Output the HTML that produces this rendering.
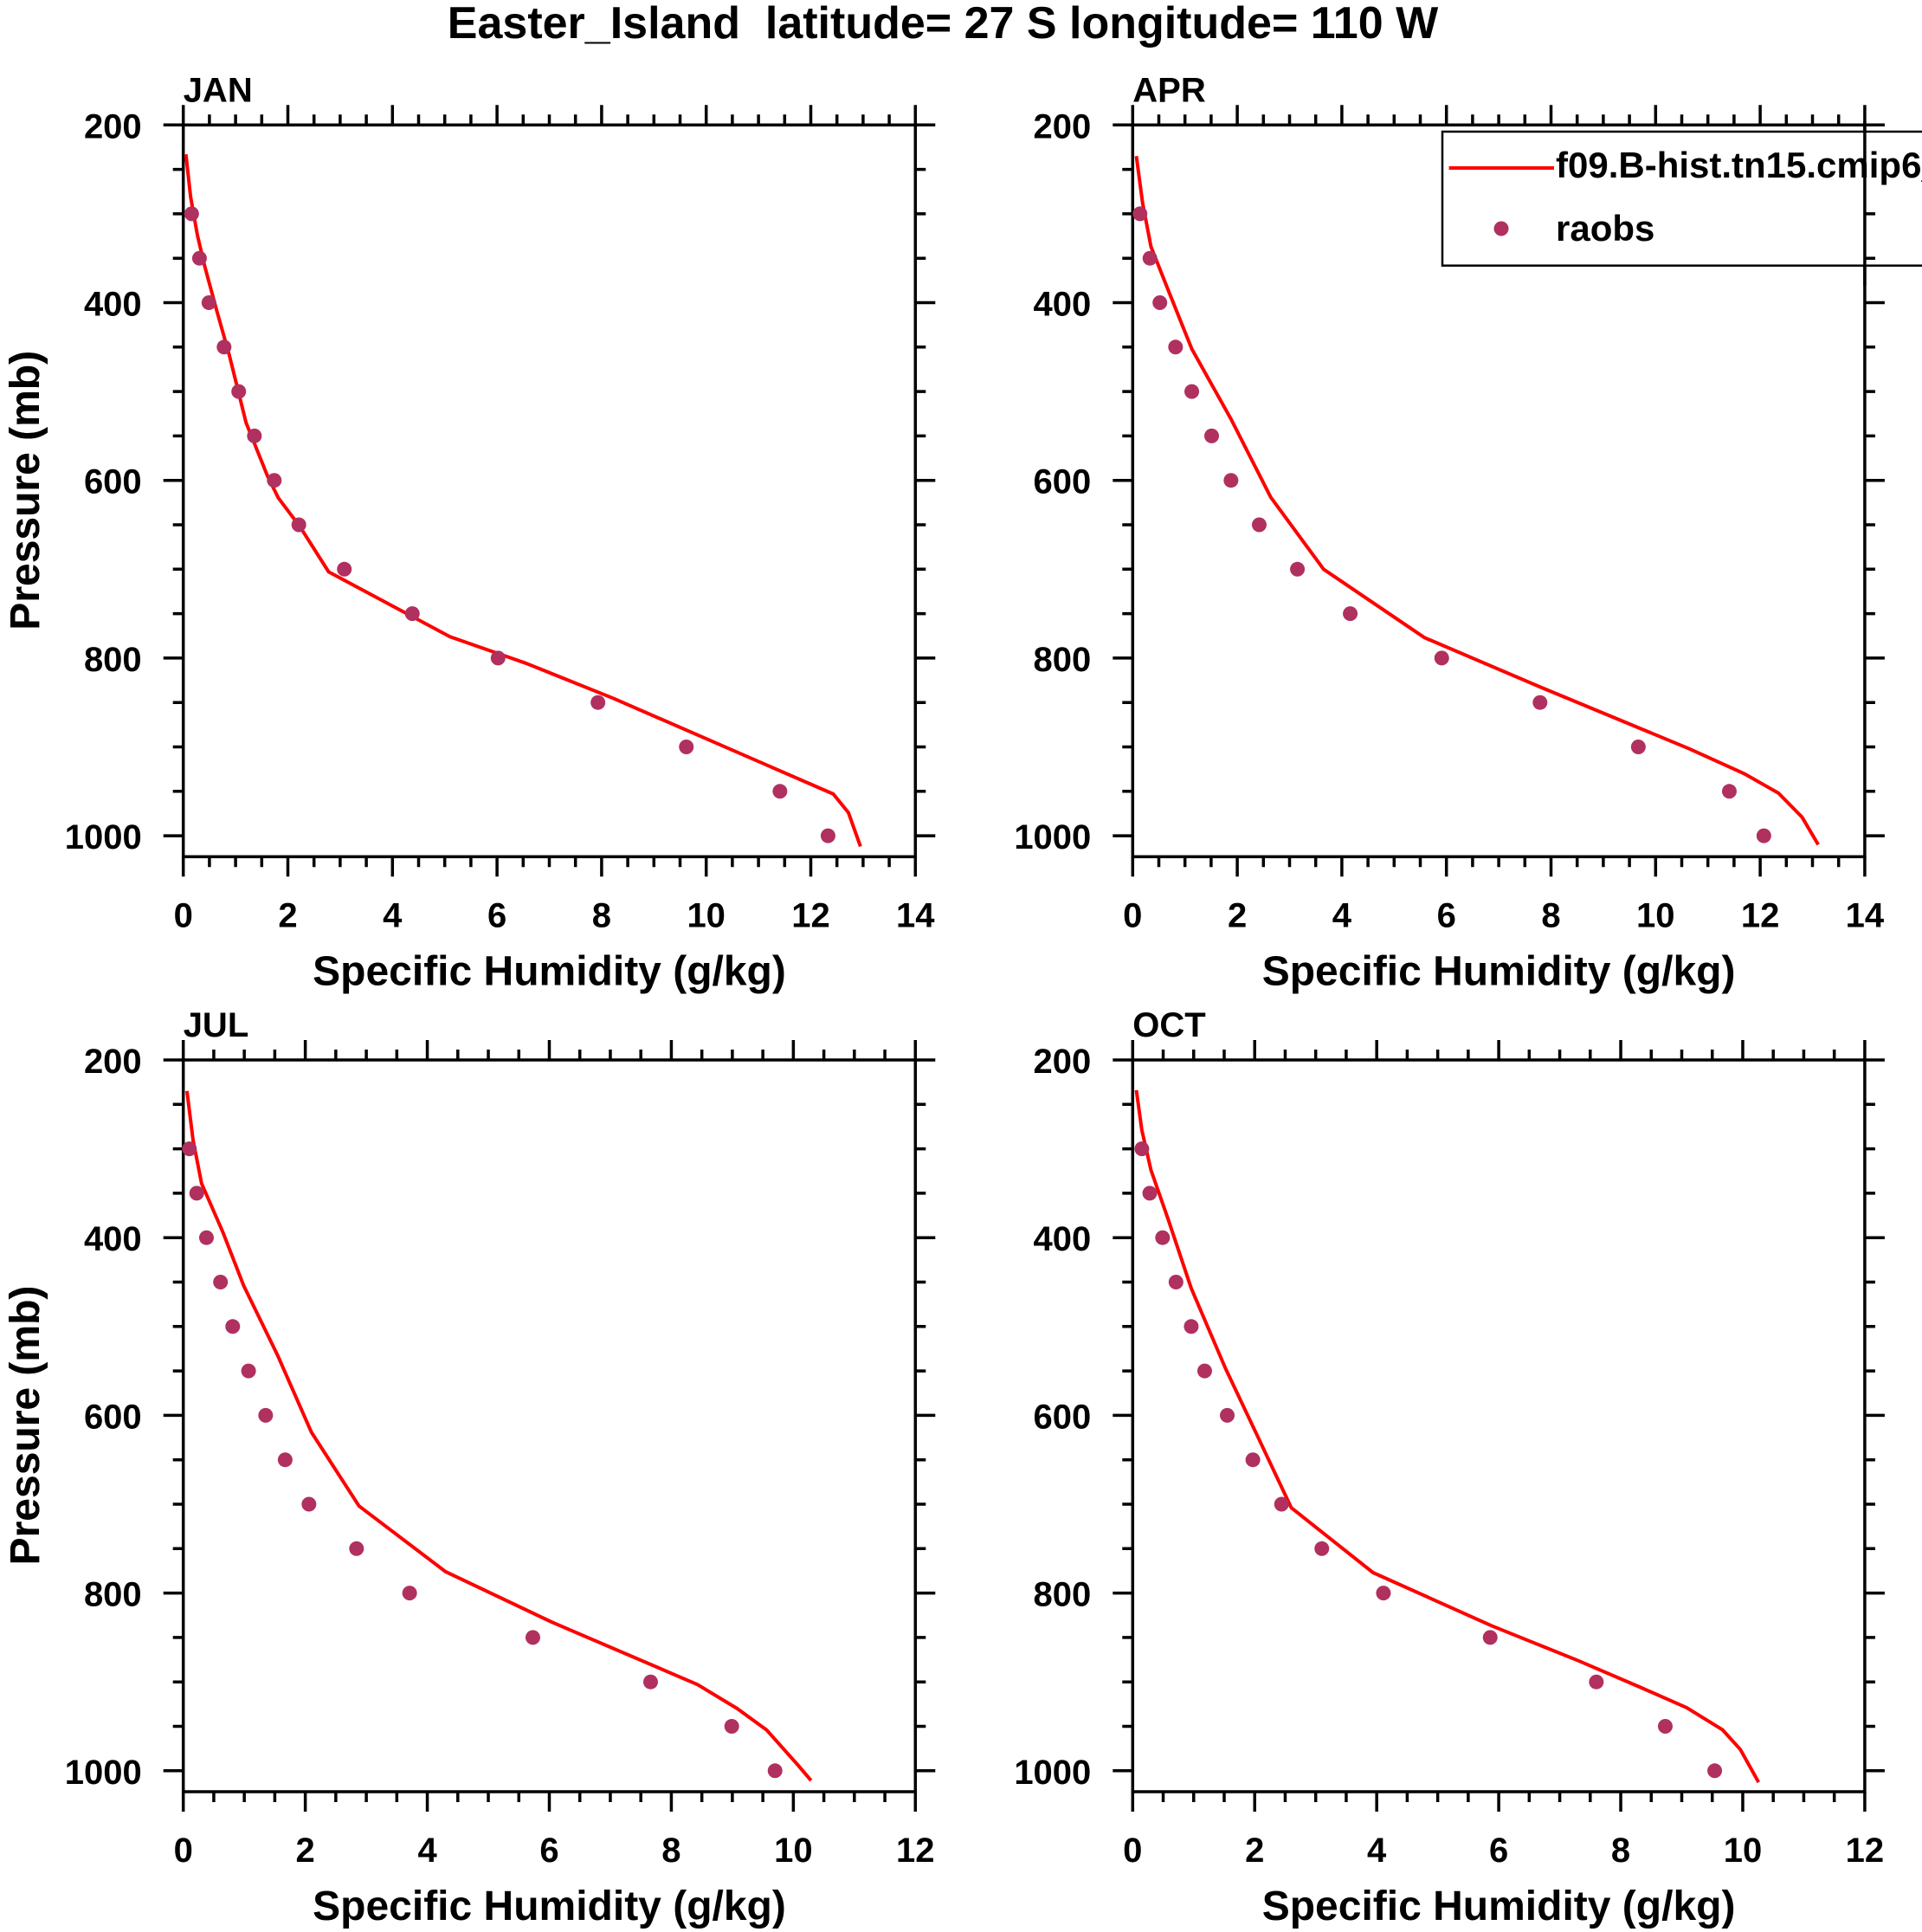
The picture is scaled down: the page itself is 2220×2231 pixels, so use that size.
<!DOCTYPE html>
<html><head><meta charset="utf-8"><style>
html,body{margin:0;padding:0;background:#fff;}
svg{display:block;font-family:"Liberation Sans",Arial,sans-serif;font-weight:bold;}
</style></head><body>
<svg id="s" width="2220" height="2231" viewBox="0 0 2220 2231" xmlns="http://www.w3.org/2000/svg">
<text x="1089" y="44" font-size="52" text-anchor="middle" style="white-space:pre">Easter_Island  latitude= 27 S longitude= 110 W</text>
</svg>
<script>
var S=document.getElementById('s'),NS='http://www.w3.org/2000/svg';
function el(t,a,txt){var e=document.createElementNS(NS,t);for(var k in a)e.setAttribute(k,a[k]);if(txt!==undefined)e.textContent=txt;S.appendChild(e);return e;}
var W=845.6,H=845,PY=1.026;
var P=[
{n:'JAN',L:211.7,T:144.3,xm:14,
 line:[[0.05,233],[0.14,281],[0.27,324],[0.41,359],[0.64,409],[0.88,459],[1.2,535],[1.61,595],[1.82,620],[2.23,652],[2.78,703],[5.1,776],[6.56,806],[8.21,845],[12.43,953],[12.72,974],[12.95,1012]],
 dots:[0.16,0.31,0.49,0.78,1.06,1.36,1.74,2.21,3.08,4.38,6.02,7.93,9.62,11.41,12.33]},
{n:'APR',L:1308.3,T:144.3,xm:14,
 line:[[0.07,235],[0.19,288],[0.35,337],[0.68,386],[1.13,452],[1.88,531],[2.64,619],[3.65,700],[5.58,777],[7.81,833],[10.64,902],[11.69,930],[12.35,952],[12.8,979],[13.11,1010]],
 dots:[0.14,0.33,0.52,0.82,1.13,1.51,1.88,2.42,3.15,4.16,5.91,7.79,9.67,11.41,12.07]},
{n:'JUL',L:211.7,T:1224,xm:12,
 line:[[0.06,235],[0.16,290],[0.3,339],[0.65,394],[0.99,454],[1.55,533],[2.1,619],[2.88,702],[4.3,776],[6.05,833],[8.43,903],[9.08,930],[9.56,954],[10.08,994],[10.29,1011]],
 dots:[0.1,0.22,0.38,0.61,0.81,1.07,1.35,1.67,2.06,2.84,3.71,5.73,7.66,8.99,9.7]},
{n:'OCT',L:1308.3,T:1224,xm:12,
 line:[[0.06,234],[0.15,279],[0.3,324],[0.58,379],[0.96,457],[1.52,547],[2.03,621],[2.6,704],[3.94,777],[5.89,837],[7.3,876],[8.32,906],[9.08,929],[9.67,954],[9.96,976],[10.26,1013]],
 dots:[0.15,0.28,0.49,0.71,0.96,1.18,1.55,1.97,2.44,3.1,4.11,5.86,7.6,8.73,9.54]}
];
P.forEach(function(p){
 var L=p.L,T=p.T,R=L+W,B=T+H,sx=W/p.xm;
 function X(v){return L+v*sx;} function Y(v){return T+(v-200)*PY;}
 var d='';
 for(var v=0;v<=p.xm+1e-9;v+=0.5){var x=X(v),maj=Math.abs(v%2)<1e-9,len=maj?23:12;
  d+='M'+x+' '+B+'V'+(B+len)+'M'+x+' '+T+'V'+(T-len);
  if(maj) el('text',{x:x,y:B+81,'font-size':40,'text-anchor':'middle'},String(v));}
 for(var v=200;v<=1000;v+=50){var y=Y(v),maj=(v%200==0),len=maj?23:12;
  d+='M'+L+' '+y+'H'+(L-len)+'M'+R+' '+y+'H'+(R+len);
  if(maj) el('text',{x:L-48,y:y+15,'font-size':40,'text-anchor':'end'},String(v));}
 el('path',{d:d,stroke:'#000','stroke-width':3.5,fill:'none'});
 el('rect',{x:L,y:T,width:W,height:H,stroke:'#000','stroke-width':3.5,fill:'none'});
 el('text',{x:L,y:T-27,'font-size':40},p.n);
 el('text',{x:L+W/2,y:B+148,'font-size':48,'text-anchor':'middle'},'Specific Humidity (g/kg)');
 el('text',{x:0,y:0,'font-size':48,'text-anchor':'middle',transform:'translate(45,'+(T+422)+') rotate(-90)'},'Pressure (mb)');
 el('polyline',{points:p.line.map(function(q){return X(q[0])+','+Y(q[1]);}).join(' '),stroke:'#ff0000','stroke-width':4,fill:'none','stroke-linejoin':'round'});
 p.dots.forEach(function(v,i){el('circle',{cx:X(v),cy:Y(300+50*i),r:8.5,fill:'#b03060'});});
});
el('rect',{x:1666,y:152,width:600,height:154.7,fill:'#fff',stroke:'#000','stroke-width':2.5});
el('line',{x1:1673.6,y1:194,x2:1795,y2:194,stroke:'#ff0000','stroke-width':4});
el('text',{x:1797,y:205,'font-size':42},'f09.B-hist.tn15.cmip6_f09');
el('circle',{cx:1734,cy:264,r:8.5,fill:'#b03060'});
el('text',{x:1797,y:278,'font-size':42},'raobs');
el('line',{x1:2153.9,y1:140,x2:2153.9,y2:330,stroke:'#000','stroke-width':3.5});
el('path',{d:'M2153.9 246.9H2166M2153.9 298.2H2166',stroke:'#000','stroke-width':3.5});
</script>
</body></html>
